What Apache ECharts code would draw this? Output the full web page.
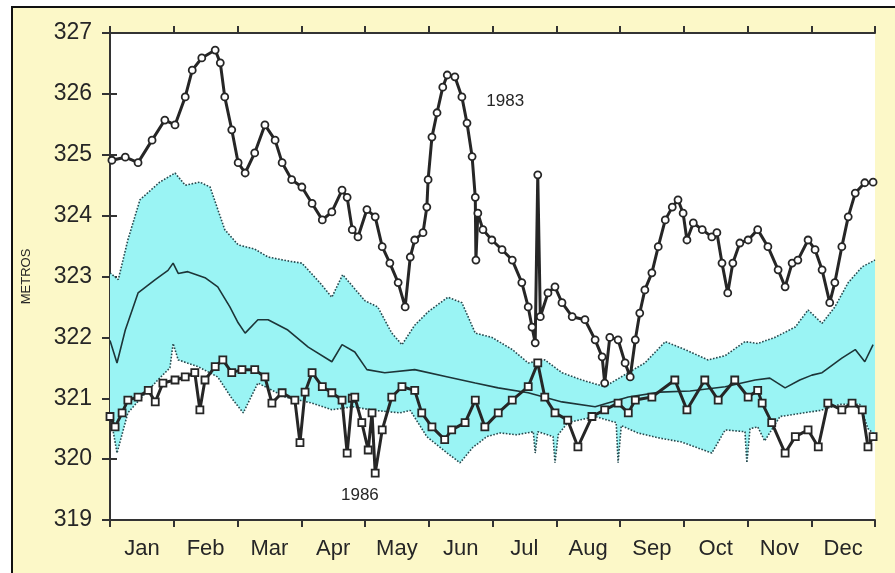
<!DOCTYPE html>
<html>
<head>
    <meta charset="utf-8">
    <title>Niveles - metros</title>
    <script src="https://cdn.jsdelivr.net/npm/echarts@6/dist/echarts.min.js"></script>
    <style>
        html, body {margin: 0; padding: 0; background: #fff;}
        #chart {width: 895px; height: 573px;}
    </style>
</head>
<body>
<div id="chart"></div>
<script>
    // meses (etiquetas del eje x)
    var months = ['Jan', 'Feb', 'Mar', 'Apr', 'May', 'Jun', 'Jul', 'Aug', 'Sep', 'Oct', 'Nov', 'Dec'];

    // [mes (0-12), nivel en metros]
    var year1983 = [
        [0.03, 324.91], [0.24, 324.96], [0.44, 324.87], [0.66, 325.24], [0.86, 325.57], [1.02, 325.49],
        [1.18, 325.95], [1.29, 326.39], [1.44, 326.59], [1.65, 326.72], [1.73, 326.51], [1.80, 325.95],
        [1.91, 325.41], [2.01, 324.87], [2.12, 324.70], [2.27, 325.03], [2.43, 325.49], [2.59, 325.24],
        [2.70, 324.87], [2.85, 324.59], [3.01, 324.47], [3.17, 324.20], [3.33, 323.93], [3.48, 324.06],
        [3.64, 324.42], [3.72, 324.30], [3.80, 323.77], [3.89, 323.65], [4.03, 324.10], [4.16, 323.98],
        [4.27, 323.49], [4.39, 323.22], [4.52, 322.90], [4.63, 322.50], [4.71, 323.32], [4.78, 323.60],
        [4.91, 323.72], [4.97, 324.14], [4.99, 324.59], [5.05, 325.29], [5.13, 325.69], [5.22, 326.11],
        [5.29, 326.31], [5.41, 326.28], [5.52, 325.95], [5.60, 325.52], [5.68, 324.97], [5.73, 324.30],
        [5.74, 323.27], [5.77, 324.04], [5.85, 323.77], [5.99, 323.60], [6.15, 323.44], [6.31, 323.27],
        [6.46, 322.90], [6.56, 322.50], [6.62, 322.17], [6.67, 321.91], [6.71, 324.67], [6.75, 322.34],
        [6.87, 322.73], [6.98, 322.83], [7.09, 322.57], [7.25, 322.34], [7.45, 322.29], [7.61, 321.96],
        [7.72, 321.68], [7.76, 321.25], [7.84, 322.00], [7.97, 321.96], [8.08, 321.58], [8.16, 321.35],
        [8.24, 321.96], [8.31, 322.40], [8.39, 322.78], [8.50, 323.06], [8.60, 323.49], [8.71, 323.93],
        [8.82, 324.14], [8.91, 324.26], [8.99, 324.04], [9.05, 323.60], [9.15, 323.88], [9.29, 323.77],
        [9.44, 323.65], [9.52, 323.72], [9.60, 323.22], [9.69, 322.73], [9.77, 323.22], [9.88, 323.55],
        [10.01, 323.60], [10.16, 323.77], [10.32, 323.49], [10.48, 323.11], [10.59, 322.83], [10.70, 323.22],
        [10.79, 323.27], [10.95, 323.60], [11.06, 323.44], [11.17, 323.11], [11.29, 322.57], [11.37, 322.90],
        [11.48, 323.49], [11.58, 323.98], [11.69, 324.37], [11.84, 324.54], [11.97, 324.55]
    ];

    var year1986 = [
        [0.00, 320.70], [0.08, 320.53], [0.19, 320.76], [0.28, 320.97], [0.44, 321.02], [0.60, 321.13],
        [0.71, 320.94], [0.83, 321.25], [1.02, 321.30], [1.18, 321.35], [1.33, 321.42], [1.41, 320.81],
        [1.49, 321.30], [1.65, 321.52], [1.77, 321.63], [1.91, 321.42], [2.07, 321.47], [2.27, 321.47],
        [2.43, 321.35], [2.54, 320.92], [2.70, 321.09], [2.90, 320.97], [2.98, 320.27], [3.06, 321.10],
        [3.17, 321.42], [3.33, 321.19], [3.48, 321.09], [3.64, 320.97], [3.72, 320.10], [3.80, 321.00],
        [3.84, 321.02], [3.95, 320.60], [4.05, 320.15], [4.11, 320.76], [4.16, 319.77], [4.27, 320.48],
        [4.42, 321.02], [4.58, 321.19], [4.78, 321.13], [4.89, 320.76], [5.05, 320.53], [5.25, 320.32],
        [5.36, 320.48], [5.57, 320.60], [5.73, 320.97], [5.88, 320.53], [6.09, 320.76], [6.31, 320.97],
        [6.56, 321.19], [6.71, 321.58], [6.82, 321.02], [6.98, 320.76], [7.18, 320.64], [7.34, 320.20],
        [7.56, 320.70], [7.76, 320.81], [7.97, 320.92], [8.13, 320.76], [8.24, 320.97], [8.50, 321.02],
        [8.86, 321.30], [9.05, 320.81], [9.33, 321.30], [9.54, 320.97], [9.80, 321.30], [10.01, 321.02],
        [10.16, 321.13], [10.23, 320.92], [10.38, 320.60], [10.59, 320.10], [10.75, 320.37], [10.95, 320.48],
        [11.11, 320.20], [11.26, 320.92], [11.48, 320.81], [11.64, 320.92], [11.80, 320.81], [11.89, 320.20],
        [11.97, 320.37]
    ];

    var media = [
        [0.00, 321.95], [0.11, 321.58], [0.24, 322.12], [0.44, 322.73], [0.71, 322.95], [0.91, 323.10],
        [0.99, 323.22], [1.07, 323.05], [1.22, 323.08], [1.49, 322.98], [1.69, 322.83], [1.88, 322.50],
        [2.01, 322.24], [2.12, 322.07], [2.32, 322.29], [2.48, 322.29], [2.79, 322.12], [3.11, 321.84],
        [3.48, 321.60], [3.64, 321.88], [3.84, 321.76], [4.03, 321.47], [4.31, 321.42], [4.78, 321.47],
        [5.30, 321.35], [5.73, 321.25], [6.09, 321.17], [6.56, 321.09], [7.09, 320.94], [7.61, 320.86],
        [8.13, 321.02], [8.63, 321.10], [9.10, 321.12], [9.65, 321.19], [10.12, 321.30], [10.35, 321.33],
        [10.59, 321.17], [10.82, 321.30], [11.01, 321.38], [11.17, 321.42], [11.48, 321.66], [11.69, 321.80],
        [11.84, 321.60], [11.97, 321.88]
    ];

    var maximo = [
        [0.00, 323.06], [0.13, 322.95], [0.28, 323.60], [0.47, 324.26], [0.78, 324.55], [1.02, 324.70],
        [1.18, 324.50], [1.41, 324.55], [1.57, 324.47], [1.80, 323.77], [2.01, 323.52], [2.27, 323.45],
        [2.48, 323.32], [2.82, 323.25], [3.01, 323.22], [3.29, 322.90], [3.48, 322.66], [3.65, 323.03],
        [4.00, 322.60], [4.20, 322.50], [4.42, 322.07], [4.58, 321.88], [4.78, 322.20], [4.99, 322.42],
        [5.30, 322.66], [5.52, 322.57], [5.73, 322.07], [5.99, 322.00], [6.31, 321.80], [6.56, 321.58],
        [6.82, 321.63], [7.09, 321.42], [7.40, 321.30], [7.76, 321.19], [8.13, 321.42], [8.39, 321.58],
        [8.71, 321.93], [9.02, 321.80], [9.38, 321.63], [9.65, 321.70], [9.96, 321.93], [10.16, 321.90],
        [10.43, 322.00], [10.75, 322.17], [10.95, 322.45], [11.17, 322.23], [11.37, 322.50], [11.58, 322.90],
        [11.80, 323.16], [12.00, 323.27]
    ];

    var minimo = [
        [0.00, 320.76], [0.11, 320.10], [0.28, 320.76], [0.50, 321.02], [0.75, 321.30], [0.94, 321.50],
        [0.99, 321.90], [1.07, 321.63], [1.38, 321.52], [1.69, 321.35], [1.91, 321.00], [2.09, 320.76],
        [2.32, 321.25], [2.75, 321.02], [3.17, 320.92], [3.48, 320.81], [3.80, 320.86], [4.16, 320.80],
        [4.55, 320.76], [4.71, 320.80], [4.97, 320.37], [5.29, 320.10], [5.49, 319.94], [5.69, 320.19],
        [5.91, 320.37], [6.12, 320.43], [6.38, 320.40], [6.64, 320.45], [6.67, 320.10], [6.71, 320.45],
        [6.95, 320.37], [6.98, 319.94], [7.03, 320.40], [7.18, 320.60], [7.61, 320.70], [7.94, 320.60],
        [7.97, 319.94], [8.02, 320.55], [8.28, 320.43], [8.60, 320.35], [8.97, 320.28], [9.44, 320.10],
        [9.65, 320.48], [9.96, 320.45], [9.99, 319.94], [10.04, 320.50], [10.16, 320.53], [10.27, 320.30],
        [10.51, 320.70], [10.82, 320.75], [11.14, 320.80], [11.45, 320.90], [11.76, 320.90], [11.89, 320.50],
        [12.00, 320.40]
    ];

    var yTicks = [319, 327];

    var chart = echarts.init(document.getElementById('chart'));
    var font = 'Liberation Sans, Arial, sans-serif';
    var dark = '#262626';
    var bandLine = '#27494e';

    // banda entre maximo y minimo (poligono cerrado)
    function renderBand(params, api) {
        var pts = [];
        maximo.forEach(function (p) {
            pts.push(api.coord(p));
        });
        for (var i = minimo.length - 1; i >= 0; i--) {
            pts.push(api.coord(minimo[i]));
        }
        return {
            type: 'polygon',
            shape: {points: pts},
            style: {fill: '#9af4f4', stroke: null}
        };
    }

    var option = {
        backgroundColor: '#fff',
        animation: false,
        graphic: [{
            type: 'rect',
            z: -100,
            shape: {x: 12, y: 7, width: 900, height: 600},
            style: {fill: '#fcf8c8', stroke: '#111', lineWidth: 2}
        }],
        grid: {
            left: 110, right: 20, top: 33, bottom: 53,
            show: true, backgroundColor: '#fff', borderWidth: 0
        },
        xAxis: [{
            type: 'value', min: 0, max: 12, interval: 1, position: 'bottom',
            axisLine: {lineStyle: {color: '#333', width: 2}},
            axisTick: {inside: false, length: 7, lineStyle: {color: '#333', width: 2}},
            axisLabel: {show: false},
            splitLine: {show: false}
        }, {
            type: 'category', data: months, position: 'bottom', boundaryGap: true,
            axisLine: {show: false}, axisTick: {show: false},
            axisLabel: {color: dark, fontSize: 22, fontFamily: font, margin: 18}
        }, {
            type: 'value', min: 0, max: 12, interval: 1, position: 'top',
            axisLine: {lineStyle: {color: '#333', width: 2}},
            axisTick: {inside: false, length: 7, lineStyle: {color: '#333', width: 2}},
            axisLabel: {show: false},
            splitLine: {show: false}
        }],
        yAxis: [{
            type: 'value', min: yTicks[0], max: yTicks[1], interval: 1, position: 'left',
            name: 'METROS', nameLocation: 'middle', nameRotate: 90, nameGap: 77,
            nameTextStyle: {color: dark, fontSize: 13, fontFamily: font},
            axisLine: {show: true, lineStyle: {color: '#555548', width: 2}},
            axisTick: {show: true, inside: false, length: 8, lineStyle: {color: '#333', width: 2}},
            axisLabel: {color: dark, fontSize: 23, fontFamily: font, margin: 18},
            splitLine: {show: false}
        }, {
            type: 'value', min: yTicks[0], max: yTicks[1], interval: 1, position: 'right',
            axisLine: {show: true, lineStyle: {color: '#333', width: 2}},
            axisTick: {show: true, inside: false, length: 7, lineStyle: {color: '#333', width: 2}},
            axisLabel: {show: false},
            splitLine: {show: false}
        }],
        series: [{
            type: 'custom',
            renderItem: renderBand,
            data: [0],
            silent: true,
            z: 1
        }, {
            type: 'line', data: maximo, showSymbol: false, z: 2,
            lineStyle: {color: bandLine, width: 1.6, type: 'dotted'}
        }, {
            type: 'line', data: minimo, showSymbol: false, z: 2,
            lineStyle: {color: bandLine, width: 1.6, type: 'dotted'}
        }, {
            type: 'line', data: media, showSymbol: false, z: 3,
            lineStyle: {color: '#1d3538', width: 1.6}
        }, {
            type: 'line', data: year1986, z: 4,
            symbol: 'rect', symbolSize: 7,
            lineStyle: {color: dark, width: 3},
            itemStyle: {color: '#fff', borderColor: dark, borderWidth: 1.8},
            markPoint: {
                symbolSize: 0,
                label: {show: true, position: 'inside', color: dark, fontSize: 17, fontFamily: font},
                data: [{coord: [3.92, 319.41], value: '1986', label: {formatter: '1986'}}]
            }
        }, {
            type: 'line', data: year1983, z: 5,
            symbol: 'circle', symbolSize: 7,
            lineStyle: {color: dark, width: 3},
            itemStyle: {color: '#fff', borderColor: dark, borderWidth: 1.8},
            markPoint: {
                symbolSize: 0,
                label: {show: true, position: 'inside', color: dark, fontSize: 17, fontFamily: font},
                data: [{coord: [6.2, 325.88], value: '1983', label: {formatter: '1983'}}]
            }
        }]
    };

    chart.setOption(option);
</script>
</body>
</html>
